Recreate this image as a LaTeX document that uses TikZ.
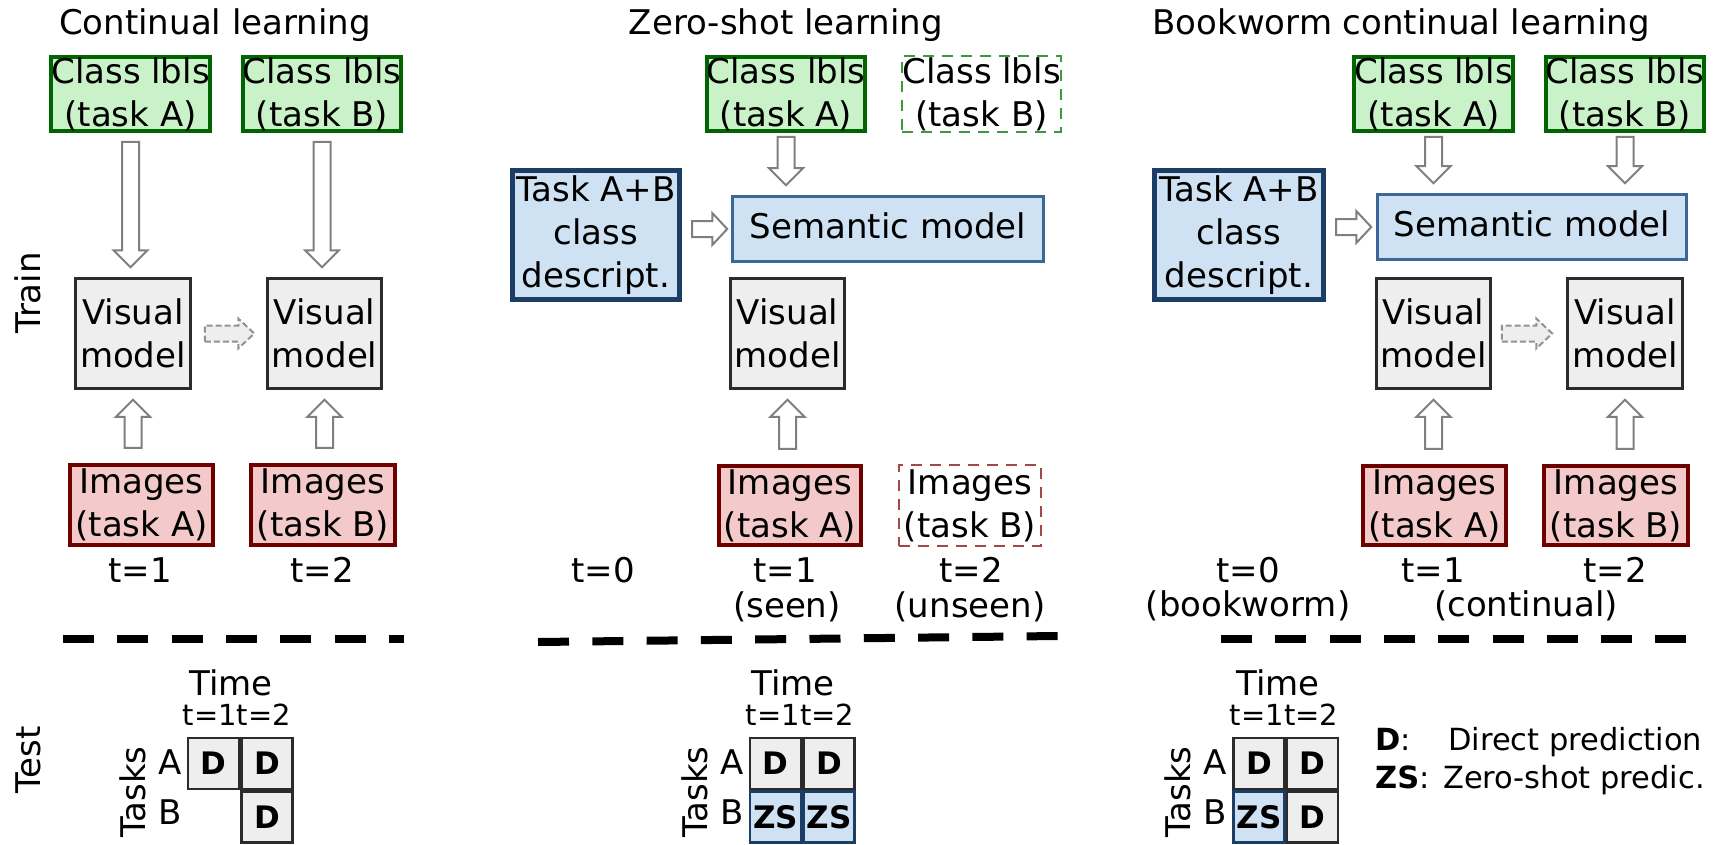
\documentclass[tikz,border=0pt]{standalone}
\usepackage{fontspec}
\setmainfont{DejaVu Sans}
\usetikzlibrary{calc}

\definecolor{lblfill}{HTML}{C9F2C9}
\definecolor{lbldraw}{HTML}{006400}
\definecolor{lbldash}{HTML}{3C9A3C}
\definecolor{imgfill}{HTML}{F4C9C9}
\definecolor{imgdraw}{HTML}{6E0000}
\definecolor{imgdash}{HTML}{A24848}
\definecolor{semfill}{HTML}{CFE2F3}
\definecolor{descdraw}{HTML}{1B3D66}
\definecolor{semdraw}{HTML}{3A6796}
\definecolor{visfill}{HTML}{EEEEEE}
\definecolor{visdraw}{HTML}{2B2B2B}
\definecolor{arrowdraw}{HTML}{7F7F7F}

\newcommand\mainfs{\fontsize{34}{43}\selectfont}
\newcommand\smallfs{\fontsize{29}{35}\selectfont}
\newcommand\cellfs{\fontsize{31}{37}\selectfont\bfseries}
\newcommand\legfs{\fontsize{30.5}{37}\selectfont}

\tikzset{
  x=1pt, y=-1pt,
  box/.style={draw, inner sep=0pt, align=center, font=\mainfs},
  sz/.style 2 args={minimum width=#1pt, minimum height=#2pt},
  lbls/.style={box, fill=lblfill, draw=lbldraw, line width=4pt},
  lblsdash/.style={box, draw=lbldash, line width=2pt, dash pattern=on 11pt off 8pt},
  imgs/.style={box, fill=imgfill, draw=imgdraw, line width=4.5pt},
  imgsdash/.style={box, draw=imgdash, line width=2pt, dash pattern=on 11pt off 8pt},
  desc/.style={box, fill=semfill, draw=descdraw, line width=5pt},
  sem/.style={box, fill=semfill, draw=semdraw, line width=2.5pt},
  vis/.style={box, fill=visfill, draw=visdraw, line width=2.5pt},
  lab/.style={inner sep=0pt, font=\mainfs, anchor=base},
  title/.style={inner sep=0pt, font=\mainfs, anchor=base},
  blockarrow/.style={draw=arrowdraw, line width=2pt, fill=white, line join=miter},
  dasharrow/.style={draw=arrowdraw!85, line width=2pt, fill=visfill, dash pattern=on 6pt off 3pt},
  divider/.style={line width=8pt, dash pattern=on 31pt off 23.3pt},
  cell/.style={draw=visdraw, fill=visfill, line width=2.5pt, minimum size=51pt, inner sep=0pt, font=\cellfs},
  zscell/.style={cell, draw=descdraw, fill=semfill},
}

% block arrows between named nodes: [style]{from}{to}{gap at start}{gap at tip}
\newcommand\arrdown[5][]{%
  \draw[blockarrow,#1] let \p1=(#2.south), \p2=(#3.north) in
    (\x1-8.5pt,\y1-#4pt) -- (\x1+8.5pt,\y1-#4pt) -- (\x1+8.5pt,\y2+#5pt+17pt)
    -- (\x1+17pt,\y2+#5pt+17pt) -- (\x1,\y2+#5pt) -- (\x1-17pt,\y2+#5pt+17pt)
    -- (\x1-8.5pt,\y2+#5pt+17pt) -- cycle;}
\newcommand\arrup[5][]{%
  \draw[blockarrow,#1] let \p1=(#2.north), \p2=(#3.south) in
    (\x2-8.5pt,\y1+#4pt) -- (\x2-8.5pt,\y2-#5pt-17pt) -- (\x2-17pt,\y2-#5pt-17pt)
    -- (\x2,\y2-#5pt) -- (\x2+17pt,\y2-#5pt-17pt) -- (\x2+8.5pt,\y2-#5pt-17pt)
    -- (\x2+8.5pt,\y1+#4pt) -- cycle;}
\newcommand\arrright[5][]{%
  \draw[blockarrow,#1] let \p1=(#2.east), \p2=(#3.west) in
    (\x1+#4pt,\y2-8pt) -- (\x2-#5pt-15pt,\y2-8pt) -- (\x2-#5pt-15pt,\y2-16pt)
    -- (\x2-#5pt,\y2) -- (\x2-#5pt-15pt,\y2+16pt) -- (\x2-#5pt-15pt,\y2+8pt)
    -- (\x1+#4pt,\y2+8pt) -- cycle;}

\begin{document}
\begin{tikzpicture}
\useasboundingbox (0,0) rectangle (1723,845);

% ---------------- side labels ----------------
\node[lab, rotate=90] (train) at (40,293) {Train};
\node[lab, rotate=90] (test) at (40,760) {Test};

% ---------------- continual learning ----------------
\node[title] (ctitle) at (215,35) {Continual learning};
\node[lbls, sz={155}{74}] (cclA) at (130.5,94) {Class lbls\\(task A)};
\node[lbls, sz={156}{74}] (cclB) at (322,94) {Class lbls\\(task B)};
\node[vis, sz={115}{110}] (cvmA) at (133,333.5) {Visual\\model};
\node[vis, sz={114}{110}] (cvmB) at (324.5,333.5) {Visual\\model};
\node[imgs, sz={143}{80}] (cimA) at (141.5,505) {Images\\(task A)};
\node[imgs, sz={144}{80}] (cimB) at (323,505) {Images\\(task B)};
\node[lab] (ct1) at (140,582) {t=1};
\node[lab] (ct2) at (322,582) {t=2};
\arrdown{cclA}{cvmA}{9}{10}
\arrdown{cclB}{cvmB}{9}{10}
\arrup{cimA}{cvmA}{15}{10}
\arrup{cimB}{cvmB}{15}{10}
\draw[dasharrow] let \p1=(cvmA.east), \p2=(cvmB.west) in
  (\x1+13pt,\y1-8pt) -- (\x2-12pt-16pt,\y1-8pt) -- (\x2-12pt-16pt,\y1-15pt)
  -- (\x2-12pt,\y1) -- (\x2-12pt-16pt,\y1+15pt) -- (\x2-12pt-16pt,\y1+8pt)
  -- (\x1+13pt,\y1+8pt) -- cycle;
\coordinate (cutCa) at (63,639);
\coordinate (cutCb) at (404,639);
\draw[divider] (cutCa) -- (cutCb);

\node[lab] (ctime) at (231,695) {Time};
\node[lab, font=\smallfs] (cts) at (237,725) {t=1t=2};
\node[cell] (cAA) at (213.5,763.5) {D};
\node[cell] (cAB) at (267,763.5) {D};
\node[cell] (cBB) at (267,817) {D};
\node[lab] (crA) at (170,774) {A};
\node[lab] (crB) at (170,824) {B};
\node[lab, rotate=90] (ctasks) at (145,792) {Tasks};

% ---------------- zero-shot learning ----------------
\node[title] (ztitle) at (786,35) {Zero-shot learning};
\node[desc, sz={167}{129}] (zdesc) at (596,235) {Task A+B\\class\\descript.};
\node[lbls, sz={156}{74}] (zclA) at (786,94) {Class lbls\\(task A)};
\node[lblsdash, sz={155}{76}] (zclB) at (981.5,94) {Class lbls\\(task B)};
\node[sem, sz={311}{65}, text height=26pt, text depth=8pt] (zsem) at (888,229) {Semantic model};
\node[vis, sz={114}{110}] (zvm) at (787.5,333.5) {Visual\\model};
\node[imgs, sz={142}{79}] (zimA) at (790,505.5) {Images\\(task A)};
\node[imgsdash, sz={142}{81}] (zimB) at (970,505.5) {Images\\(task B)};
\node[lab] (zt0) at (603,582) {t=0};
\node[lab] (zt1) at (785,582) {t=1};
\node[lab] (zseen) at (787,617) {(seen)};
\node[lab] (zt2) at (971,582) {t=2};
\node[lab] (zunseen) at (970,617) {(unseen)};
\arrdown{zclA}{zsem}{4}{10}
\arrright{zdesc}{zsem}{10}{4}
\arrup{zimA}{zvm}{15}{10}
\coordinate (cutZa) at (538,642);
\coordinate (cutZb) at (1058,636);
\draw[divider] (cutZa) -- (cutZb);

\node[lab] (ztime) at (793,695) {Time};
\node[lab, font=\smallfs] (zts) at (800,725) {t=1t=2};
\node[cell] (zAA) at (775.5,763.5) {D};
\node[cell] (zAB) at (829,763.5) {D};
\node[zscell] (zBA) at (775.5,817) {ZS};
\node[zscell] (zBB) at (829,817) {ZS};
\node[lab] (zrA) at (732,774) {A};
\node[lab] (zrB) at (732,824) {B};
\node[lab, rotate=90] (ztasks) at (707,792) {Tasks};

% ---------------- bookworm continual learning ----------------
\node[title] (btitle) at (1401,35) {Bookworm continual learning};
\node[desc, sz={169}{129}] (bdesc) at (1239,235) {Task A+B\\class\\descript.};
\node[lbls, sz={155}{74}] (bclA) at (1433.5,94) {Class lbls\\(task A)};
\node[lbls, sz={154}{74}] (bclB) at (1625,94) {Class lbls\\(task B)};
\node[sem, sz={309}{65}, text height=26pt, text depth=8pt] (bsem) at (1532,227) {Semantic model};
\node[vis, sz={114}{110}] (bvmA) at (1433.5,333.5) {Visual\\model};
\node[vis, sz={115}{110}] (bvmB) at (1625,333.5) {Visual\\model};
\node[imgs, sz={143}{79}] (bimA) at (1434.5,505.5) {Images\\(task A)};
\node[imgs, sz={144}{79}] (bimB) at (1616,505.5) {Images\\(task B)};
\node[lab] (bt0) at (1248,582) {t=0};
\node[lab] (bbook) at (1248,616) {(bookworm)};
\node[lab] (bt1) at (1433,582) {t=1};
\node[lab] (bt2) at (1615,582) {t=2};
\node[lab] (bcont) at (1526,616) {(continual)};
\arrdown{bclA}{bsem}{4}{10}
\arrdown{bclB}{bsem}{4}{10}
\arrright{bdesc}{bsem}{10}{5}
\arrup{bimA}{bvmA}{15}{10}
\arrup{bimB}{bvmB}{15}{10}
\draw[dasharrow] let \p1=(bvmA.east), \p2=(bvmB.west) in
  (\x1+10pt,\y1-8pt) -- (\x2-14pt-16pt,\y1-8pt) -- (\x2-14pt-16pt,\y1-15pt)
  -- (\x2-14pt,\y1) -- (\x2-14pt-16pt,\y1+15pt) -- (\x2-14pt-16pt,\y1+8pt)
  -- (\x1+10pt,\y1+8pt) -- cycle;
\coordinate (cutBa) at (1221,639);
\coordinate (cutBb) at (1686,639);
\draw[divider] (cutBa) -- (cutBb);

\node[lab] (btime) at (1278,695) {Time};
\node[lab, font=\smallfs] (bts) at (1284,725) {t=1t=2};
\node[cell] (bAA) at (1259,763.5) {D};
\node[cell] (bAB) at (1312.5,763.5) {D};
\node[zscell] (bBA) at (1259,817) {ZS};
\node[cell] (bBB) at (1312.5,817) {D};
\node[lab] (brA) at (1215,774) {A};
\node[lab] (brB) at (1215,824) {B};
\node[lab, rotate=90] (btasks) at (1190,792) {Tasks};

% ---------------- legend ----------------
\node[lab, font=\legfs, anchor=base west] (legD) at (1375,750) {\textbf{D}:};
\node[lab, font=\legfs, anchor=base west] (legDt) at (1448,750) {Direct prediction};
\node[lab, font=\legfs, anchor=base west] (legZ) at (1375,788) {\textbf{ZS}:};
\node[lab, font=\legfs, anchor=base west] (legZt) at (1443,788) {Zero-shot predic.};
\end{tikzpicture}
\end{document}
